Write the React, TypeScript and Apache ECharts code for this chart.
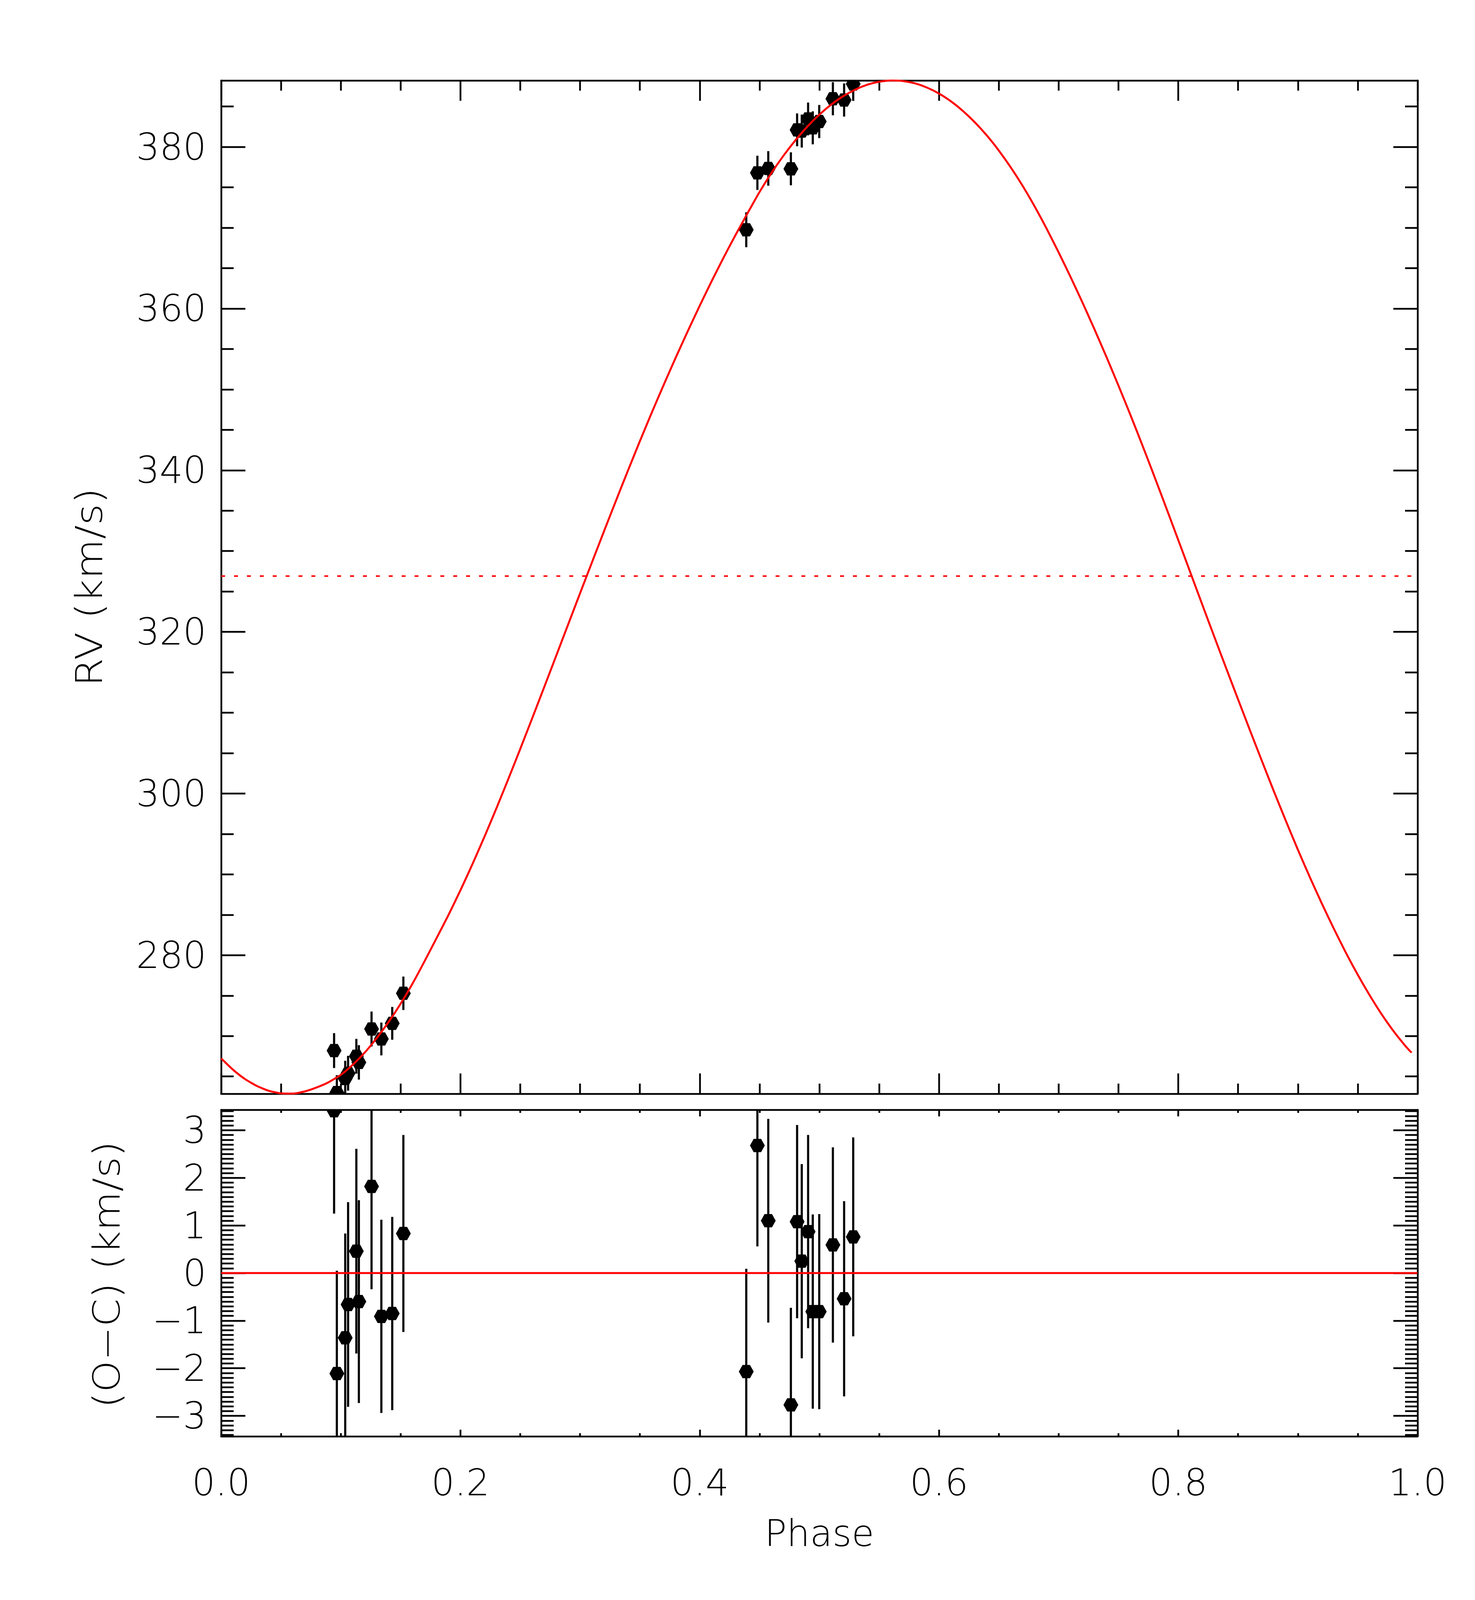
import React, { useEffect, useRef } from "react";
import * as echarts from "echarts";

// ---------- data ----------
const OBS_PHASE = [
  0.0944, 0.0967, 0.1037, 0.1061, 0.113, 0.1151, 0.1257, 0.1339, 0.143, 0.1523,
  0.4389, 0.4482, 0.4573, 0.4762, 0.4814, 0.4853, 0.4906, 0.4945, 0.4999, 0.5113, 0.5207, 0.5283,
];
const OBS_RV = [
  268.2, 263.0, 264.75, 265.4, 267.5, 266.74, 270.87, 269.64, 271.57, 275.29,
  369.75, 376.79, 377.34, 377.29, 382.11, 381.96, 383.46, 382.36, 383.14, 385.96, 385.8, 387.78,
];
const OBS_ERR = [
  2.16, 2.16, 2.19, 2.15, 2.15, 2.13, 2.16, 2.03, 2.03, 2.07,
  2.16, 2.12, 2.14, 2.04, 2.03, 2.04, 2.03, 2.04, 2.05, 2.05, 2.05, 2.09,
];
const OBS_OC = [
  3.41, -2.11, -1.36, -0.66, 0.46, -0.6, 1.82, -0.91, -0.85, 0.83,
  -2.07, 2.68, 1.1, -2.77, 1.08, 0.25, 0.87, -0.81, -0.81, 0.59, -0.54, 0.76,
];

const MODEL_PHASE = [
  0.0, 0.01, 0.02, 0.03, 0.04, 0.05, 0.06, 0.07, 0.08, 0.09,
  0.1, 0.11, 0.12, 0.13, 0.14, 0.15, 0.16, 0.17, 0.18, 0.19,
  0.2, 0.21, 0.22, 0.23, 0.24, 0.25, 0.26, 0.27, 0.28, 0.29,
  0.3, 0.31, 0.32, 0.33, 0.34, 0.35, 0.36, 0.37, 0.38, 0.39,
  0.4, 0.41, 0.42, 0.43, 0.44, 0.45, 0.46, 0.47, 0.48, 0.49,
  0.5, 0.51, 0.52, 0.53, 0.54, 0.55, 0.56, 0.57, 0.58, 0.59,
  0.6, 0.61, 0.62, 0.63, 0.64, 0.65, 0.66, 0.67, 0.68, 0.69,
  0.7, 0.71, 0.72, 0.73, 0.74, 0.75, 0.76, 0.77, 0.78, 0.79,
  0.8, 0.81, 0.82, 0.83, 0.84, 0.85, 0.86, 0.87, 0.88, 0.89,
  0.9, 0.91, 0.92, 0.93, 0.94, 0.95, 0.96, 0.97, 0.98, 0.99,
  0.995,
];
const MODEL_RV = [
  267.24, 265.82, 264.67, 263.81, 263.22, 262.91, 262.88, 263.15, 263.65, 264.3,
  265.2, 266.45, 267.95, 269.75, 271.75, 274.0, 276.5, 279.25, 282.1, 284.98,
  288.03, 291.25, 294.63, 298.15, 301.79, 305.52, 309.32, 313.16, 317.03, 320.91,
  324.78, 328.63, 332.45, 336.23, 339.95, 343.6, 347.15, 350.6, 353.95, 357.2,
  360.35, 363.4, 366.32, 369.12, 371.8, 374.42, 376.78, 378.91, 380.82, 382.52,
  383.99, 385.25, 386.28, 387.09, 387.69, 388.06, 388.22, 388.15, 387.86, 387.34,
  386.6, 385.64, 384.45, 383.04, 381.41, 379.55, 377.46, 375.16, 372.62, 369.87,
  366.95, 363.9, 360.72, 357.42, 354.0, 350.47, 346.84, 343.09, 339.24, 335.32,
  331.36, 327.38, 323.4, 319.44, 315.52, 311.64, 307.79, 303.99, 300.24, 296.59,
  293.04, 289.64, 286.39, 283.29, 280.34, 277.59, 275.04, 272.69, 270.59, 268.74,
  267.94,
];
const GAMMA = 326.9;

const RV_RANGE = [262.86, 388.22];
const OC_RANGE = [-3.43, 3.43];
const PHASE_TICKS = [0, 0.2, 0.4, 0.6, 0.8, 1.0];
const RV_MAJOR = [280, 300, 320, 340, 360, 380];
const RV_MINOR = [265, 270, 275, 285, 290, 295, 305, 310, 315, 325, 330, 335, 345, 350, 355, 365, 370, 375, 385];
const OC_MAJOR = [-3, -2, -1, 0, 1, 2, 3];
const OC_MINOR: number[] = [];
for (let k = -34; k <= 34; k++) {
  if (k % 10 !== 0) OC_MINOR.push(k / 10);
}

const FONT = "DejaVu Sans";
const FW = 200;
const FS = 94;
const AXW = 4.5;
const BLACK = "#000000";
const RED = "#ff0000";

const G0 = { left: 566, top: 206, width: 3062, height: 2594 };
const G1 = { left: 566, top: 2841, width: 3062, height: 836 };

function fmtSigned(v: number) {
  const r = Math.round(v);
  return r < 0 ? "\u2212" + Math.abs(r) : String(r);
}

function xAxisDef(gridIndex: number, position: string, major: number, minor: number, labels: boolean) {
  return {
    type: "value",
    gridIndex,
    position,
    min: 0,
    max: 1,
    interval: 0.2,
    axisLine: { show: true, onZero: false, lineStyle: { color: BLACK, width: AXW } },
    axisTick: { show: true, inside: true, length: major, lineStyle: { color: BLACK, width: AXW } },
    minorTick: { show: true, splitNumber: 4, length: minor, lineStyle: { color: BLACK, width: AXW } },
    splitLine: { show: false },
    minorSplitLine: { show: false },
    axisLabel: labels
      ? {
          show: true,
          margin: 71,
          color: BLACK,
          fontFamily: FONT,
          fontWeight: FW,
          fontSize: FS,
          lineHeight: FS,
          formatter: (v: number) => v.toFixed(1),
          customValues: PHASE_TICKS,
        }
      : { show: false },
  };
}

function yAxisDef(
  gridIndex: number,
  position: string,
  range: number[],
  ticks: number[],
  len: number,
  showLine: boolean,
  labelFmt: ((v: number) => string) | null
) {
  return {
    type: "value",
    gridIndex,
    position,
    min: range[0],
    max: range[1],
    axisLine: { show: showLine, onZero: false, lineStyle: { color: BLACK, width: AXW } },
    axisTick: {
      show: true,
      inside: true,
      length: len,
      customValues: ticks,
      lineStyle: { color: BLACK, width: AXW },
    },
    minorTick: { show: false },
    splitLine: { show: false },
    axisLabel: labelFmt
      ? {
          show: true,
          margin: 38,
          color: BLACK,
          fontFamily: FONT,
          fontWeight: FW,
          fontSize: FS,
          customValues: ticks,
          formatter: labelFmt,
        }
      : { show: false },
  };
}

function errRender(params: any, api: any) {
  const x = api.value(0);
  const y = api.value(1);
  const e = api.value(2);
  const c = api.coord([x, y]);
  const t = api.coord([x, y + e]);
  const b = api.coord([x, y - e]);
  const hw = 19;
  const hh = 17;
  return {
    type: "group",
    children: [
      {
        type: "line",
        shape: { x1: c[0], y1: t[1], x2: c[0], y2: b[1] },
        style: { stroke: BLACK, lineWidth: 5.5 },
      },
      {
        type: "polygon",
        shape: {
          points: [
            [c[0] - hw, c[1]],
            [c[0] - hw / 2, c[1] - hh],
            [c[0] + hw / 2, c[1] - hh],
            [c[0] + hw, c[1]],
            [c[0] + hw / 2, c[1] + hh],
            [c[0] - hw / 2, c[1] + hh],
          ],
        },
        style: { fill: BLACK, stroke: null },
      },
    ],
  };
}

export default function App() {
  const ref = useRef<HTMLDivElement>(null);

  useEffect(() => {
    if (!ref.current) return;
    const chart = echarts.init(ref.current, null, { renderer: "svg", width: 3775, height: 4133 });

    const topData = OBS_PHASE.map((p, i) => [p, OBS_RV[i], OBS_ERR[i]]);
    const ocData = OBS_PHASE.map((p, i) => [p, OBS_OC[i], OBS_ERR[i]]);
    const modelData = MODEL_PHASE.map((p, i) => [p, MODEL_RV[i]]);

    const option: any = {
      animation: false,
      backgroundColor: "#ffffff",
      textStyle: { fontFamily: FONT, color: BLACK },
      grid: [
        { ...G0, outerBoundsMode: "none", containLabel: false },
        { ...G1, outerBoundsMode: "none", containLabel: false },
      ],
      xAxis: [
        xAxisDef(0, "bottom", 52, 26, false),
        xAxisDef(0, "top", 52, 26, false),
        xAxisDef(1, "bottom", 17, 8, true),
        xAxisDef(1, "top", 17, 8, false),
      ],
      yAxis: [
        yAxisDef(0, "left", RV_RANGE, RV_MAJOR, 62, true, (v: number) => String(Math.round(v))),
        yAxisDef(0, "left", RV_RANGE, RV_MINOR, 32, false, null),
        yAxisDef(0, "right", RV_RANGE, RV_MAJOR, 62, true, null),
        yAxisDef(0, "right", RV_RANGE, RV_MINOR, 32, false, null),
        yAxisDef(1, "left", OC_RANGE, OC_MAJOR, 62, true, fmtSigned),
        yAxisDef(1, "left", OC_RANGE, OC_MINOR, 32, false, null),
        yAxisDef(1, "right", OC_RANGE, OC_MAJOR, 62, true, null),
        yAxisDef(1, "right", OC_RANGE, OC_MINOR, 32, false, null),
      ],
      series: [
        {
          name: "RV",
          type: "custom",
          xAxisIndex: 0,
          yAxisIndex: 0,
          clip: true,
          silent: true,
          data: topData,
          encode: { x: 0, y: 1 },
          renderItem: errRender,
        },
        {
          name: "model",
          type: "line",
          xAxisIndex: 0,
          yAxisIndex: 0,
          data: modelData,
          showSymbol: false,
          symbol: "none",
          smooth: 0.2,
          clip: true,
          silent: true,
          lineStyle: { color: RED, width: 5 },
        },
        {
          name: "gamma",
          type: "line",
          xAxisIndex: 0,
          yAxisIndex: 0,
          data: [
            [0, GAMMA],
            [1, GAMMA],
          ],
          showSymbol: false,
          symbol: "none",
          silent: true,
          lineStyle: { color: RED, width: 4, type: [10, 23] },
        },
        {
          name: "O-C",
          type: "custom",
          xAxisIndex: 2,
          yAxisIndex: 4,
          clip: true,
          silent: true,
          data: ocData,
          encode: { x: 0, y: 1 },
          renderItem: errRender,
        },
        {
          name: "zero",
          type: "line",
          xAxisIndex: 2,
          yAxisIndex: 4,
          data: [
            [0, 0],
            [1, 0],
          ],
          showSymbol: false,
          symbol: "none",
          silent: true,
          lineStyle: { color: RED, width: 5 },
        },
      ],
      graphic: [
        {
          type: "text",
          x: 229,
          y: 1503,
          rotation: Math.PI / 2,
          scaleX: 1.12,
          style: {
            text: "RV (km/s)",
            fill: BLACK,
            font: `${FW} ${FS}px '${FONT}'`,
            align: "center",
            verticalAlign: "middle",
          },
        },
        {
          type: "text",
          x: 273,
          y: 3263,
          rotation: Math.PI / 2,
          scaleX: 1.1,
          style: {
            text: "(O\u2212C) (km/s)",
            fill: BLACK,
            font: `${FW} ${FS}px '${FONT}'`,
            align: "center",
            verticalAlign: "middle",
          },
        },
        {
          type: "text",
          x: 2097,
          y: 3925,
          style: {
            text: "Phase",
            fill: BLACK,
            font: `${FW} ${FS}px '${FONT}'`,
            align: "center",
            verticalAlign: "middle",
          },
        },
      ],
    };

    chart.setOption(option);
    return () => {
      chart.dispose();
    };
  }, []);

  return (
    <div
      ref={ref}
      style={{ position: "absolute", left: 0, top: 0, width: "3775px", height: "4133px", background: "#fff" }}
    />
  );
}
